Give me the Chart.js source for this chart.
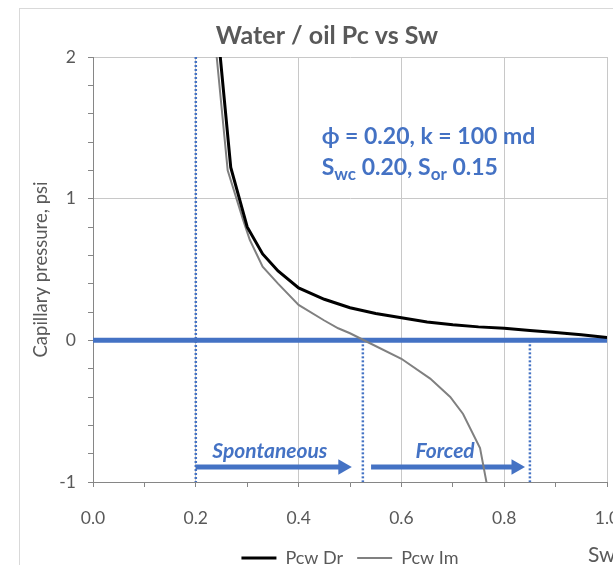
<!DOCTYPE html>
<html>
<head>
<meta charset="utf-8">
<script src="https://cdn.jsdelivr.net/npm/chart.js@4.4.0/dist/chart.umd.min.js"></script>
<style>
  html, body { margin: 0; padding: 0; background: #fff; overflow: hidden; width: 613px; height: 565px; }
  #frame { position: absolute; left: 19px; top: 8px; width: 700px; height: 700px; border: 1px solid #d9d9d9; }
  #wrap { position: absolute; left: 0; top: 0; width: 660px; height: 565px; }
</style>
</head>
<body>
<div id="frame"></div>
<div id="wrap"><canvas id="pcChart" width="660" height="565"></canvas></div>
<script>
"use strict";
// drainage curve
const swDr = [0.245, 0.268, 0.30, 0.33, 0.36, 0.40, 0.45, 0.50, 0.55, 0.60, 0.65, 0.70, 0.75, 0.80, 0.85, 0.90, 0.95, 1.00];
const pcDr = [2.10, 1.22, 0.80, 0.61, 0.49, 0.37, 0.29, 0.23, 0.19, 0.16, 0.13, 0.11, 0.095, 0.085, 0.07, 0.055, 0.04, 0.02];
// imbibition curve
const swIm = [0.238, 0.262, 0.292, 0.305, 0.33, 0.36, 0.40, 0.45, 0.477, 0.50, 0.533, 0.60, 0.656, 0.695, 0.72, 0.753, 0.768];
const pcIm = [2.10, 1.20, 0.85, 0.71, 0.52, 0.40, 0.25, 0.14, 0.085, 0.05, -0.01, -0.13, -0.27, -0.40, -0.52, -0.76, -1.05];
// zero line, guide lines and arrows
const zeroSw = [0, 1];
const guideSw = [0.2, 0.525, 0.85];
const guideTopPc = [2, 0, 0];
const guideBottomPc = -1;
const arrowPc = -0.894;
const spontSw = [0.2, 0.486];
const forcedSw = [0.541, 0.823];
const arrowLabels = ["Spontaneous", "Forced"];
const arrowLabelSw = [0.344, 0.685];
const arrowLabelPc = -0.786;

const BLUE = "#4472C4";
const GREY_TEXT = "#595959";
const FONT = 'Lato, "Noto Sans", sans-serif';

const pts = (xs, ys) => xs.map((v, i) => ({ x: v, y: ys[i] }));
const isInt = v => Math.abs(v - Math.round(v)) < 1e-6;

const datasets = [
    { label: "Pcw Dr", data: pts(swDr, pcDr), borderColor: "#000000", borderWidth: 3, pointRadius: 0 },
    { label: "Pcw Im", data: pts(swIm, pcIm), borderColor: "#808080", borderWidth: 2, pointRadius: 0 },
    { label: "zero", data: pts(zeroSw, [0, 0]), borderColor: BLUE, borderWidth: 5, pointRadius: 0 }
];
guideSw.forEach((sw, i) => {
    datasets.push({
        label: "guide" + i,
        data: [{ x: sw, y: guideTopPc[i] }, { x: sw, y: guideBottomPc }],
        borderColor: BLUE, borderWidth: 2.5, borderDash: [2, 2], pointRadius: 0
    });
});
[spontSw, forcedSw].forEach((sws, i) => {
    datasets.push({
        label: "arrow" + i,
        data: pts(sws, [arrowPc, arrowPc]),
        borderColor: BLUE, borderWidth: 5,
        pointRadius: [0, 9], pointStyle: "triangle", pointRotation: 90,
        pointBackgroundColor: BLUE, pointBorderWidth: 0
    });
});

// text drawn on top: title, axis title, notes
const overlayText = {
    id: "overlayText",
    afterDatasetsDraw(chart) {
        const { ctx, scales: { x, y } } = chart;
        ctx.save();
        ctx.textBaseline = "middle";
        ctx.fillStyle = GREY_TEXT;
        ctx.font = "bold 25px " + FONT;
        ctx.textAlign = "center";
        ctx.fillText("Water / oil Pc vs Sw", 327, 36);
        ctx.font = "21px " + FONT;
        ctx.textAlign = "left";
        ctx.fillText("Sw", 588, 555);

        ctx.fillStyle = BLUE;
        ctx.font = "italic bold 21px " + FONT;
        ctx.textAlign = "center";
        arrowLabels.forEach((t, i) => {
            ctx.fillText(t, x.getPixelForValue(arrowLabelSw[i]), y.getPixelForValue(arrowLabelPc));
        });

        // property note with subscripts
        ctx.textAlign = "left";
        const left = x.getPixelForValue(0.445);
        ctx.font = "bold 23px " + FONT;
        ctx.fillText("\u03d5 = 0.20, k = 100 md", left, y.getPixelForValue(1.436));
        const runs = [["S", 0], ["wc", 1], [" 0.20, S", 0], ["or", 1], [" 0.15", 0]];
        let cx = left;
        const baseY = y.getPixelForValue(1.216);
        runs.forEach(([t, sub]) => {
            ctx.font = (sub ? "bold 17px " : "bold 23px ") + FONT;
            ctx.fillText(t, cx, sub ? baseY + 6 : baseY);
            cx += ctx.measureText(t).width;
        });
        ctx.restore();
    }
};

new Chart(document.getElementById("pcChart"), {
    type: "line",
    data: { datasets },
    options: {
        responsive: false,
        animation: false,
        layout: { padding: { left: 30, right: 53, top: 57, bottom: -12 } },
        plugins: {
            title: { display: false },
            tooltip: { enabled: false },
            legend: {
                position: "bottom",
                fullSize: false,
                labels: {
                    filter: item => item.datasetIndex < 2,
                    usePointStyle: true,
                    pointStyle: "line",
                    pointStyleWidth: 35,
                    boxHeight: 10,
                    padding: 14,
                    color: GREY_TEXT,
                    font: { family: FONT, size: 18 }
                }
            }
        },
        scales: {
            x: {
                type: "linear",
                min: 0, max: 1,
                ticks: {
                    stepSize: 0.1, autoSkip: false, maxRotation: 0, padding: 21,
                    color: GREY_TEXT, font: { family: FONT, size: 17.5 },
                    callback: v => (Math.round(v * 10) % 2 === 0 ? v.toFixed(1) : "")
                },
                grid: {
                    color: c => (Math.round(c.tick.value * 10) % 2 === 0 ? "#c8c8c8" : "transparent"),
                    tickColor: "#868686", tickLength: 5
                },
                border: { color: "#868686" },
                afterFit: s => { s.height = 53; }
            },
            y: {
                min: -1, max: 2,
                ticks: {
                    stepSize: 0.2, autoSkip: false, padding: 12,
                    color: GREY_TEXT, font: { family: FONT, size: 17.5 },
                    callback: v => (isInt(v) ? String(Math.round(v)) : "")
                },
                grid: {
                    color: c => (isInt(c.tick.value) ? "#c8c8c8" : "transparent"),
                    tickColor: "#868686", tickLength: 5
                },
                border: { color: "#868686" },
                title: {
                    display: true, text: "Capillary pressure, psi", color: GREY_TEXT,
                    font: { family: FONT, size: 18.5 }, padding: 0
                },
                afterFit: s => { s.width = 63; }
            }
        }
    },
    plugins: [overlayText]
});
</script>
</body>
</html>
